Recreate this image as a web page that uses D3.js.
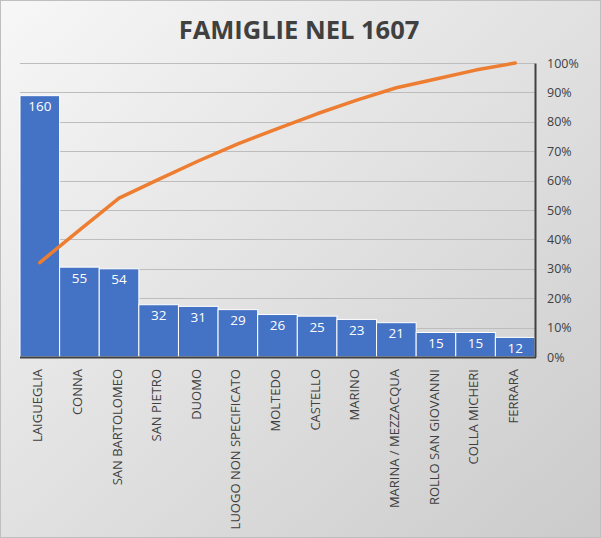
<!DOCTYPE html>
<html lang="en">
<head>
    <meta charset="utf-8">
    <title>Famiglie nel 1607</title>
    <style>
        html, body { margin: 0; padding: 0; background: #fff; }
        svg { display: block; }
    </style>
</head>
<body>
    <svg class="chart"></svg>

    <script src="https://d3js.org/d3.v7.min.js"></script>
    <script>
        // data
        var places = ["LAIGUEGLIA", "CONNA", "SAN BARTOLOMEO", "SAN PIETRO", "DUOMO",
            "LUOGO NON SPECIFICATO", "MOLTEDO", "CASTELLO", "MARINO", "MARINA / MEZZACQUA",
            "ROLLO SAN GIOVANNI", "COLLA MICHERI", "FERRARA"];
        var families = [160, 55, 54, 32, 31, 29, 26, 25, 23, 21, 15, 15, 12];
        var pctTicks = [0, 0.1, 0.2, 0.3, 0.4, 0.5, 0.6, 0.7, 0.8, 0.9, 1];

        var width = 601,
            height = 538;
        var plotLeft = 20, plotRight = 535, plotTop = 63, plotBottom = 357;

        var svg = d3.select(".chart")
            .attr("width", width)
            .attr("height", height);

        // background gradient like the Excel chart area
        var grad = svg.append("defs").append("linearGradient")
            .attr("id", "bg")
            .attr("x1", "0").attr("y1", "0")
            .attr("x2", "1").attr("y2", "1");
        grad.append("stop").attr("offset", "0%").attr("stop-color", "#f7f7f7");
        grad.append("stop").attr("offset", "100%").attr("stop-color", "#cbcbcb");

        svg.append("rect")
            .attr("x", 0.5).attr("y", 0.5)
            .attr("width", width - 1).attr("height", height - 1)
            .attr("fill", "url(#bg)")
            .attr("stroke", "#bfbfbf");

        svg.append("text")
            .attr("x", 299)
            .attr("y", 39)
            .attr("text-anchor", "middle")
            .style("font-family", "'Open Sans', sans-serif")
            .style("font-weight", "bold")
            .style("font-size", "25.5px")
            .style("fill", "#404040")
            .text("FAMIGLIE NEL 1607");

        // cumulative share
        var total = d3.sum(families);
        var running = 0;
        var cumulative = families.map(function(v) { running += v; return running / total; });

        var x = d3.scaleBand()
            .domain(places)
            .range([plotLeft, plotRight])
            .paddingInner(0)
            .paddingOuter(0);

        var y = d3.scaleLinear()
            .domain([0, 180])
            .range([plotBottom, plotTop]);

        var y2 = d3.scaleLinear()
            .domain([0, 1])
            .range([plotBottom, plotTop]);

        // gridlines
        svg.append("g")
            .selectAll("line")
            .data(pctTicks.slice(1))
            .enter().append("line")
            .attr("x1", plotLeft).attr("x2", plotRight)
            .attr("y1", function(d) { return Math.round(y2(d)) + 0.5; })
            .attr("y2", function(d) { return Math.round(y2(d)) + 0.5; })
            .attr("stroke", "#bdbdbd")
            .attr("stroke-width", 1);

        // bars
        svg.append("g")
            .selectAll("rect")
            .data(families)
            .enter().append("rect")
            .attr("x", function(d, i) { return x(places[i]); })
            .attr("y", function(d) { return y(d); })
            .attr("width", x.bandwidth())
            .attr("height", function(d) { return plotBottom - y(d); })
            .attr("fill", "#4472c4")
            .attr("stroke", "#ffffff")
            .attr("stroke-width", 1);

        svg.append("g")
            .selectAll("text")
            .data(families)
            .enter().append("text")
            .attr("x", function(d, i) { return x(places[i]) + x.bandwidth() / 2; })
            .attr("y", function(d) { return y(d) + 15.5; })
            .attr("text-anchor", "middle")
            .style("font-family", "'Open Sans', sans-serif")
            .style("font-size", "13.5px")
            .style("fill", "#ffffff")
            .text(function(d) { return d; });

        // baseline
        svg.append("line")
            .attr("x1", plotLeft).attr("x2", plotRight + 1)
            .attr("y1", plotBottom + 0.5).attr("y2", plotBottom + 0.5)
            .attr("stroke", "#404040")
            .attr("stroke-width", 2);

        // right axis
        var axisRight = d3.axisRight(y2)
            .tickValues(pctTicks)
            .tickFormat(d3.format(".0%"))
            .tickSize(0)
            .tickPadding(12);

        var ra = svg.append("g")
            .attr("transform", "translate(" + plotRight + ",0)")
            .call(axisRight);
        ra.select(".domain").attr("stroke", "#404040").attr("stroke-width", 2);
        ra.selectAll("text")
            .style("font-family", "'Open Sans', sans-serif")
            .style("font-size", "12.5px")
            .style("fill", "#404040");

        // category labels
        var axisBottom = d3.axisBottom(x).tickSize(0).tickPadding(0);
        var ba = svg.append("g")
            .attr("transform", "translate(0," + plotBottom + ")")
            .call(axisBottom);
        ba.select(".domain").remove();
        ba.selectAll("text")
            .attr("transform", "rotate(-90)")
            .attr("x", -12)
            .attr("y", -2)
            .attr("dy", "0.35em")
            .attr("text-anchor", "end")
            .style("font-family", "'Open Sans', sans-serif")
            .style("font-size", "13px")
            .style("fill", "#404040");

        // pareto line
        var line = d3.line()
            .x(function(d, i) { return x(places[i]) + x.bandwidth() / 2; })
            .y(function(d) { return y2(d); });

        svg.append("path")
            .datum(cumulative)
            .attr("d", line)
            .attr("fill", "none")
            .attr("stroke", "#ed7d31")
            .attr("stroke-width", 3.5)
            .attr("stroke-linejoin", "round")
            .attr("stroke-linecap", "round");
    </script>
</body>
</html>
